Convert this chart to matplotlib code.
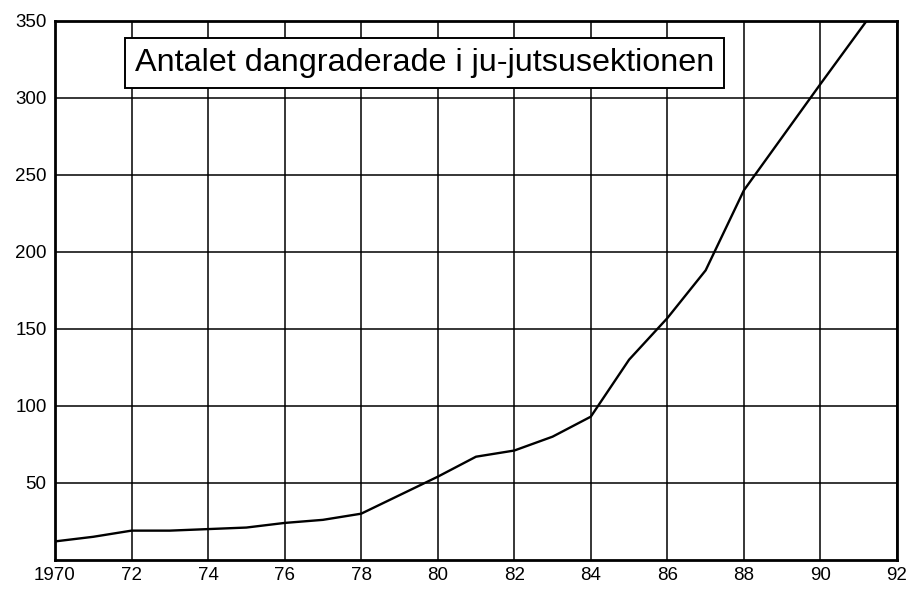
import numpy as np
import matplotlib
matplotlib.use('Agg')
import matplotlib.pyplot as plt

plt.rcParams['font.family'] = ['Liberation Sans', 'DejaVu Sans']

# values
years = [1970, 1971, 1972, 1973, 1974, 1975, 1976, 1977, 1978, 1980, 1981, 1982, 1983, 1984, 1985, 1986, 1987, 1988, 1990, 1992]
antal = [12, 15, 19, 19, 20, 21, 24, 26, 30, 54, 67, 71, 80, 93, 130, 157, 188, 240, 309, 377]
xticks = [1970, 1972, 1974, 1976, 1978, 1980, 1982, 1984, 1986, 1988, 1990, 1992]
xlabels = ['1970', '72', '74', '76', '78', '80', '82', '84', '86', '88', '90', '92']
yticks = [50, 100, 150, 200, 250, 300, 350]
title = 'Antalet dangraderade i ju-jutsusektionen'

fig = plt.figure(figsize=(9.07, 5.95), dpi=100)
ax = fig.add_axes([0.0606, 0.059, 0.9284, 0.906])

ax.plot(years, antal, color='black', lw=1.7, zorder=3)

ax.set_xlim(1970, 1992)
ax.set_ylim(0, 350)
ax.set_xticks(xticks)
ax.set_xticklabels(xlabels)
ax.set_yticks(yticks)
ax.tick_params(length=0, labelsize=13.5, colors='black')
ax.tick_params(axis='y', pad=6)
ax.tick_params(axis='x', pad=5)
ax.grid(True, color='black', lw=1.1)
for s in ax.spines.values():
    s.set_linewidth(2)

ax.text(0.095, 0.922, title, transform=ax.transAxes, fontsize=23.3,
        ha='left', va='center', zorder=5,
        bbox=dict(boxstyle='square,pad=0.3', fc='white', ec='black', lw=1.4))

fig.savefig('out.png', dpi=100)
